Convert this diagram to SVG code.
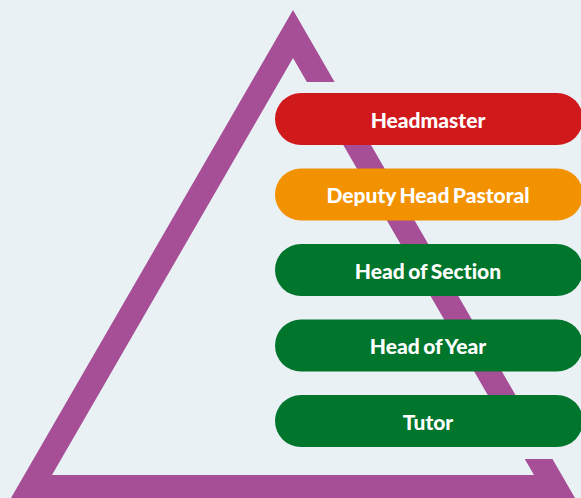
<svg xmlns="http://www.w3.org/2000/svg" width="581" height="498" viewBox="0 0 581 498">
<style>
.lbl{font-family:Lato,"Open Sans",sans-serif;font-weight:900;font-size:21px;fill:#ffffff;text-anchor:middle;font-variant-ligatures:none;word-spacing:-1.5px}
.bg{fill:#E9F1F5}
</style>
<rect class="bg" x="0" y="0" width="581" height="498"/>
<g id="pyramid">
<path d="M293,10 L575,498 L11,498 Z M293,58 L52,475 L534,475 Z" fill="#A64F97" fill-rule="evenodd"/>
<rect class="bg" x="296" y="82" width="285" height="12"/>
<rect class="bg" x="296" y="446" width="285" height="13"/>
</g>
<g id="headmaster">
<rect x="275" y="93" width="308" height="52" rx="26" fill="#D0191B"/>
<text class="lbl" x="428" y="127.5">Headmaster</text>
</g>
<g id="deputy">
<rect x="275" y="168.5" width="308" height="52" rx="26" fill="#F39200"/>
<text class="lbl" x="428" y="203">Deputy Head Pastoral</text>
</g>
<g id="section">
<rect x="275" y="244" width="308" height="52" rx="26" fill="#00752C"/>
<text class="lbl" x="428" y="278.5">Head of Section</text>
</g>
<g id="year">
<rect x="275" y="319.5" width="308" height="52" rx="26" fill="#00752C"/>
<text class="lbl" x="428" y="354">Head of Year</text>
</g>
<g id="tutor">
<rect x="275" y="395" width="308" height="52" rx="26" fill="#00752C"/>
<text class="lbl" x="428" y="429.5">Tutor</text>
</g>
<g id="connectors"/>
</svg>
